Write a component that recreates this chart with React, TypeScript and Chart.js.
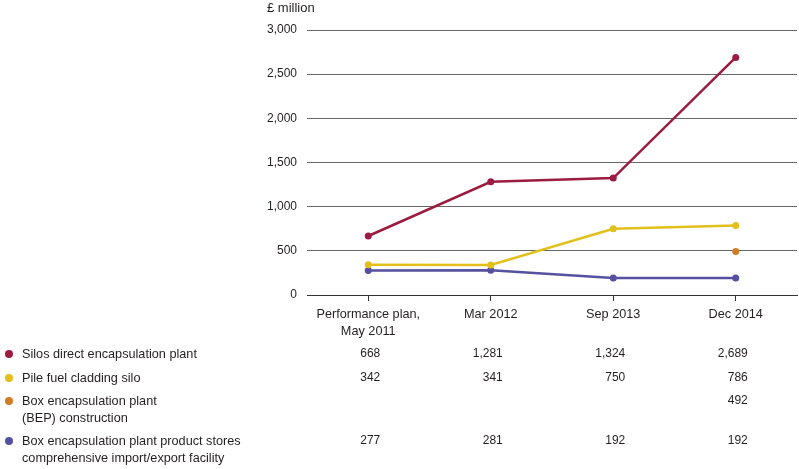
import React, { useEffect, useRef } from "react";
import { Chart, registerables } from "chart.js";

Chart.register(...registerables);

const categories = [["Performance plan,", "May 2011"], "Mar 2012", "Sep 2013", "Dec 2014"];
const silosDirect = [668, 1281, 1324, 2689];
const pileFuel = [342, 341, 750, 786];
const bepConstruction = [null, null, null, 492];
const bepStores = [277, 281, 192, 192];
const seriesNames = [
  ["Silos direct encapsulation plant"],
  ["Pile fuel cladding silo"],
  ["Box encapsulation plant", "(BEP) construction"],
  ["Box encapsulation plant product stores", "comprehensive import/export facility"],
];
const colors = ["#9b1c40", "#e2c01c", "#d17c25", "#55509f"];
const yTicks = [0, 500, 1000, 1500, 2000, 2500, 3000];

const FONT = "'Liberation Sans', Arial, sans-serif";
const TEXT = "#231f20";

export default function App() {
  const ref = useRef<HTMLCanvasElement>(null);
  useEffect(() => {
    if (!ref.current) return;
    const seriesData = [silosDirect, pileFuel, bepConstruction, bepStores];
    const rowY = [354, 378, 401, 441];
    const tablePlugin = {
      id: "table",
      afterDraw(chart: any) {
        const ctx = chart.ctx;
        const xs = chart.scales.x;
        ctx.save();
        ctx.fillStyle = TEXT;
        ctx.textBaseline = "middle";
        ctx.textAlign = "left";
        ctx.font = `13px ${FONT}`;
        ctx.fillText("£ million", 267, 8);
        seriesNames.forEach((lines, r) => {
          const y = rowY[r];
          ctx.fillStyle = colors[r];
          ctx.beginPath();
          ctx.arc(9, y, 4, 0, Math.PI * 2);
          ctx.fill();
          ctx.fillStyle = TEXT;
          ctx.textAlign = "left";
          ctx.font = `12.7px ${FONT}`;
          lines.forEach((l, k) => ctx.fillText(l, 22, y + k * 17));
          ctx.textAlign = "right";
          ctx.font = `12px ${FONT}`;
          seriesData[r].forEach((v, i) => {
            if (v == null) return;
            ctx.fillText(v.toLocaleString("en-GB"), xs.getPixelForValue(i) + 12, y);
          });
        });
        ctx.restore();
      },
    };
    const chart = new Chart(ref.current, {
      type: "line",
      data: {
        labels: categories as any,
        datasets: [silosDirect, pileFuel, bepConstruction, bepStores].map((d, i) => ({
          label: seriesNames[i].join(" "),
          data: d,
          borderColor: colors[i],
          backgroundColor: colors[i],
          borderWidth: 2.5,
          pointRadius: 3.5,
          pointBorderWidth: 0,
          pointHoverRadius: 3.5,
          tension: 0,
        })),
      },
      options: {
        animation: false,
        responsive: false,
        events: [],
        layout: { autoPadding: false, padding: { top: 30, left: 240, right: 2, bottom: 0 } },
        plugins: { legend: { display: false }, tooltip: { enabled: false } },
        scales: {
          x: {
            offset: true,
            afterFit: (s: any) => { s.height = 174; },
            grid: { offset: false, drawOnChartArea: false, drawTicks: true, tickLength: 6, color: "#333" },
            border: { display: true, color: "#333", width: 1 },
            ticks: { color: TEXT, font: { family: FONT, size: 12.7, lineHeight: 1.35 }, padding: 5, maxRotation: 0 },
          },
          y: {
            min: 0,
            max: 3000,
            afterFit: (s: any) => { s.width = 67; },
            afterBuildTicks: (s: any) => { s.ticks = yTicks.map((v) => ({ value: v })); },
            grid: { color: "#666", drawTicks: false, lineWidth: 1 },
            border: { display: false },
            ticks: {
              color: TEXT,
              font: { family: FONT, size: 12 },
              padding: 10,
              callback: (v: any) => Number(v).toLocaleString("en-GB"),
            },
          },
        },
      },
      plugins: [tablePlugin],
    });
    return () => chart.destroy();
  }, []);
  return (
    <div style={{ position: "absolute", left: 0, top: 0, width: 799, height: 469, background: "#fff" }}>
      <canvas ref={ref} width={799} height={469} style={{ display: "block" }} />
    </div>
  );
}
